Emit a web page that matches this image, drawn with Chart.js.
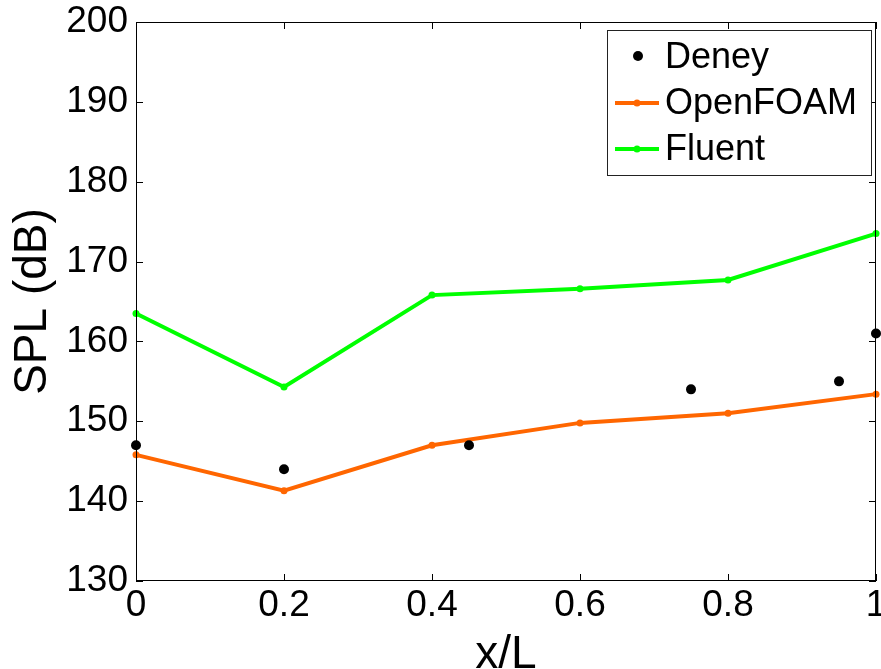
<!DOCTYPE html>
<html>
<head>
<meta charset="utf-8">
<title>SPL along x/L</title>
<script src="https://cdn.jsdelivr.net/npm/chart.js@4.4.1/dist/chart.umd.min.js"></script>
<style>
  html, body { margin: 0; padding: 0; background: #ffffff; }
  #wrap { width: 881px; height: 669px; position: relative; overflow: hidden; }
</style>
</head>
<body>
<div id="wrap"><canvas id="c" width="881" height="669"></canvas></div>
<script>
// Simulation stations (x/L) shared by both solvers
const xSim = [0, 0.2, 0.4, 0.6, 0.8, 1.0];
const openfoamSPL = [145.8, 141.3, 147.0, 149.8, 151.0, 153.4];
const fluentSPL = [163.5, 154.3, 165.8, 166.6, 167.7, 173.5];

// Measured values (Deney)
const xDeney = [0, 0.2, 0.45, 0.75, 0.95, 1.0];
const deneySPL = [147.0, 144.0, 147.0, 154.0, 155.0, 161.0];

const seriesNames = ['Deney', 'OpenFOAM', 'Fluent'];
const xTickValues = [0, 0.2, 0.4, 0.6, 0.8, 1];
const yRange = [130, 200];

const FONT = '"Liberation Sans", Arial, Helvetica, sans-serif';
const toPoints = (xs, ys) => xs.map((x, i) => ({ x: x, y: ys[i] }));

// Box frame with inward tick marks on all four sides
const framePlugin = {
  id: 'frame',
  afterDatasetsDraw(chart) {
    const { ctx, chartArea: a, scales } = chart;
    const len = 7;
    ctx.save();
    ctx.strokeStyle = '#000';
    ctx.lineWidth = 1;
    ctx.beginPath();
    scales.x.ticks.forEach(t => {
      const px = Math.round(scales.x.getPixelForValue(t.value)) + 0.5;
      ctx.moveTo(px, a.bottom); ctx.lineTo(px, a.bottom - len);
      ctx.moveTo(px, a.top); ctx.lineTo(px, a.top + len);
    });
    scales.y.ticks.forEach(t => {
      const py = Math.round(scales.y.getPixelForValue(t.value)) + 0.5;
      ctx.moveTo(a.left, py); ctx.lineTo(a.left + len, py);
      ctx.moveTo(a.right, py); ctx.lineTo(a.right - len, py);
    });
    ctx.stroke();
    ctx.strokeRect(Math.round(a.left) + 0.5, Math.round(a.top) + 0.5,
                   Math.round(a.right - a.left) - 1, Math.round(a.bottom - a.top) - 1);
    ctx.restore();
  }
};

// Boxed legend in the upper right corner of the plot
const legendPlugin = {
  id: 'boxLegend',
  afterDraw(chart) {
    const { ctx } = chart;
    const bx = 607, by = 30, bw = 264, bh = 145;
    ctx.save();
    ctx.fillStyle = '#fff';
    ctx.fillRect(bx, by, bw, bh);
    ctx.strokeStyle = '#222';
    ctx.lineWidth = 1;
    ctx.strokeRect(bx + 0.5, by + 0.5, bw, bh);
    ctx.font = '36px ' + FONT;
    ctx.textBaseline = 'middle';
    ctx.textAlign = 'left';
    chart.data.datasets.forEach((ds, i) => {
      const cy = 57 + i * 46;
      if (ds.showLine === false) {
        ctx.fillStyle = ds.pointBackgroundColor;
        ctx.beginPath();
        ctx.arc(638, cy - 1, 5, 0, Math.PI * 2);
        ctx.fill();
      } else {
        ctx.strokeStyle = ds.borderColor;
        ctx.lineWidth = 4;
        ctx.beginPath();
        ctx.moveTo(615, cy); ctx.lineTo(659, cy);
        ctx.stroke();
        ctx.fillStyle = ds.borderColor;
        ctx.beginPath();
        ctx.arc(637, cy, 3.5, 0, Math.PI * 2);
        ctx.fill();
      }
      ctx.fillStyle = '#000';
      ctx.fillText(ds.label, 665, cy + 1);
    });
    ctx.restore();
  }
};

new Chart(document.getElementById('c'), {
  type: 'scatter',
  data: {
    datasets: [
      {
        label: seriesNames[0],
        data: toPoints(xDeney, deneySPL),
        showLine: false,
        pointRadius: 5,
        pointBackgroundColor: '#000',
        pointBorderColor: '#000',
        pointBorderWidth: 0,
        clip: false,
        order: 0
      },
      {
        label: seriesNames[1],
        data: toPoints(xSim, openfoamSPL),
        showLine: true,
        borderColor: '#ff6600',
        backgroundColor: '#ff6600',
        borderWidth: 4,
        pointRadius: 3.5,
        pointBackgroundColor: '#ff6600',
        pointBorderColor: '#ff6600',
        pointBorderWidth: 0,
        tension: 0,
        clip: false,
        order: 1
      },
      {
        label: seriesNames[2],
        data: toPoints(xSim, fluentSPL),
        showLine: true,
        borderColor: '#00ff00',
        backgroundColor: '#00ff00',
        borderWidth: 4,
        pointRadius: 3.5,
        pointBackgroundColor: '#00ff00',
        pointBorderColor: '#00ff00',
        pointBorderWidth: 0,
        tension: 0,
        clip: false,
        order: 2
      }
    ]
  },
  options: {
    responsive: false,
    animation: false,
    devicePixelRatio: 1,
    layout: { padding: { left: 0, right: 3, top: 22, bottom: 0 } },
    plugins: {
      legend: { display: false },
      tooltip: { enabled: false }
    },
    scales: {
      x: {
        type: 'linear',
        min: 0,
        max: 1,
        afterBuildTicks(scale) {
          scale.ticks = xTickValues.map(v => ({ value: v }));
        },
        afterFit(scale) {
          scale.height = 88;
          scale.paddingLeft = 0;
          scale.paddingRight = 0;
        },
        grid: { display: false, drawTicks: false },
        border: { display: false },
        ticks: {
          color: '#000',
          padding: 3,
          maxRotation: 0,
          autoSkip: false,
          font: { family: FONT, size: 37 },
          callback: v => String(Math.round(v * 10) / 10)
        },
        title: {
          display: true,
          text: 'x/L',
          color: '#000',
          font: { family: FONT, size: 46 },
          padding: { top: 0, bottom: -14 }
        }
      },
      y: {
        type: 'linear',
        min: yRange[0],
        max: yRange[1],
        afterFit(scale) {
          scale.width = 136;
          scale.paddingTop = 0;
          scale.paddingBottom = 0;
        },
        grid: { display: false, drawTicks: false },
        border: { display: false },
        ticks: {
          color: '#000',
          padding: 8,
          stepSize: 10,
          autoSkip: false,
          font: { family: FONT, size: 37 }
        },
        title: {
          display: true,
          text: 'SPL (dB)',
          color: '#000',
          font: { family: FONT, size: 46 },
          padding: { top: 6, bottom: 0 }
        }
      }
    }
  },
  plugins: [framePlugin, legendPlugin]
});
</script>
</body>
</html>
